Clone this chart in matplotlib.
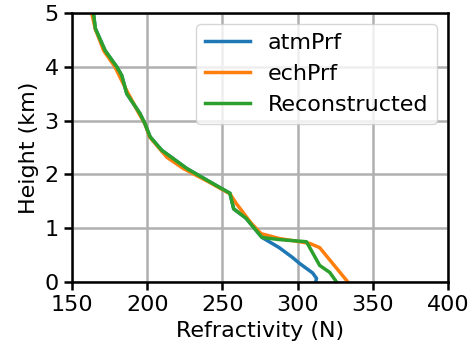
import numpy as np
import matplotlib.pyplot as plt

# profiles (refractivity N vs height km)
h_rec = [5.1, 5.0, 4.71, 4.3, 4.0, 3.84, 3.62, 3.50, 3.13, 2.94, 2.70, 2.45, 2.11, 1.86, 1.65, 1.51, 1.36, 1.19, 0.83, 0.79, 0.75, 0.31, 0.18, 0.0]
n_rec = [163.5, 164.2, 165.5, 172, 179.7, 183, 185.2, 186.4, 195.2, 198.5, 201.9, 209.6, 226.3, 241.8, 255, 256.2, 257.5, 265.6, 276.3, 287.8, 305.9, 314.7, 321.4, 326]

h_ech = [5.1, 5.0, 4.7, 4.3, 4.0, 3.8, 3.55, 3.13, 2.94, 2.70, 2.32, 2.11, 1.86, 1.64, 1.45, 1.10, 0.90, 0.81, 0.72, 0.64, 0.0]
n_ech = [162.5, 163, 165.5, 171, 178.5, 182, 186.5, 194.5, 198.5, 201.5, 213, 224, 241, 255, 259.5, 269, 275.7, 287.8, 308, 314.7, 333.5]

h_atm = [5.1, 5.0, 4.71, 4.3, 4.0, 3.84, 3.62, 3.50, 3.13, 2.94, 2.70, 2.45, 2.11, 1.86, 1.65, 1.51, 1.36, 1.19, 0.83, 0.64, 0.46, 0.35, 0.17, 0.07, 0.0]
n_atm = [163.5, 164.2, 165.5, 172, 179.7, 183, 185.2, 186.4, 195.2, 198.5, 201.9, 209.6, 226.3, 241.8, 255, 256.2, 257.5, 265.6, 276.3, 287.8, 296.5, 301.2, 310, 312.6, 312]

plt.rcParams['font.size'] = 16
fig = plt.figure(figsize=(4.71, 3.5), dpi=100)
ax = fig.add_axes([0.153, 0.194, 0.798, 0.769])

ax.plot(n_atm, h_atm, color='#1f77b4', lw=2.5, label='atmPrf')
ax.plot(n_ech, h_ech, color='#ff7f0e', lw=2.5, label='echPrf')
ax.plot(n_rec, h_rec, color='#2ca02c', lw=2.5, label='Reconstructed')

ax.set_xlim(150, 400)
ax.set_ylim(0, 5)
ax.set_xticks([150, 200, 250, 300, 350, 400])
ax.set_yticks([0, 1, 2, 3, 4, 5])
ax.grid(True, color='#b0b0b0', lw=1.8)
for s in ax.spines.values():
    s.set_linewidth(1.8)
ax.tick_params(width=1.8, length=6)
ax.set_xlabel('Refractivity (N)')
ax.set_ylabel('Height (km)')
ax.legend(loc='upper right', fontsize=16)

fig.savefig('out.png', dpi=100)
